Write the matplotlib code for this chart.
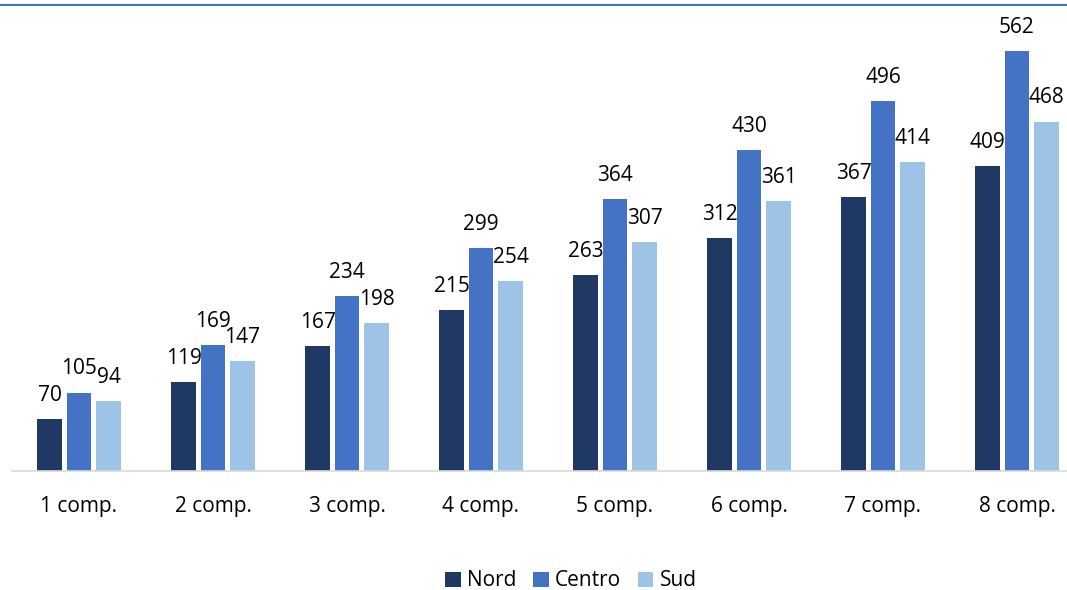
import matplotlib
matplotlib.use("Agg")
import matplotlib.pyplot as plt
import numpy as np

categories = ["1 comp.", "2 comp.", "3 comp.", "4 comp.", "5 comp.", "6 comp.", "7 comp.", "8 comp."]
nord = [70, 119, 167, 215, 263, 312, 367, 409]
centro = [105, 169, 234, 299, 364, 430, 496, 562]
sud = [94, 147, 198, 254, 307, 361, 414, 468]
series_names = ["Nord", "Centro", "Sud"]
colors = ["#203864", "#4472C4", "#9DC3E6"]

plt.rcParams['font.family'] = ['Open Sans', 'DejaVu Sans']
FS = 15

W, H = 1067, 590
fig = plt.figure(figsize=(W / 100, H / 100), dpi=100)

# axes placement in pixel terms
left_px, right_px = 12, 1067
base_px, top_px = 471, 23
ax = fig.add_axes([left_px / W, (H - base_px) / H, (right_px - left_px) / W, (base_px - top_px) / H])

x = np.arange(len(categories))
pitch = 0.22
width = 0.18
for i, (vals, name, c) in enumerate(zip([nord, centro, sud], series_names, colors)):
    pos = x + (i - 1) * pitch
    ax.bar(pos, vals, width=width, color=c, label=name, zorder=2)
    for xp, v in zip(pos, vals):
        ax.annotate(str(v), (xp, v), xytext=(0, 17), textcoords="offset points",
                    ha="center", va="center", fontsize=FS, color="#000000",
                    annotation_clip=False)

ax.set_xlim(-0.5, (1067 - 79) / 134)
ax.set_ylim(0, 600)
ax.set_yticks([])
ax.set_xticks(x)
ax.set_xticklabels(categories, fontsize=FS)
ax.tick_params(axis="x", length=0, pad=18)
for s in ["top", "right", "left"]:
    ax.spines[s].set_visible(False)
ax.spines["bottom"].set_color("#D9D9D9")
ax.spines["bottom"].set_linewidth(1.2)

# thin rule along the top edge
fig.add_artist(plt.Line2D([0, 1], [1 - 5 / H, 1 - 5 / H], color="#4472C4", linewidth=1.5,
                          transform=fig.transFigure))

fig.legend(loc="center", bbox_to_anchor=(571 / W, 1 - 581 / H), ncol=3, frameon=False,
           fontsize=FS, handlelength=0.75, handleheight=0.75, handletextpad=0.3,
           columnspacing=0.8)

fig.savefig("out.png", dpi=100)
